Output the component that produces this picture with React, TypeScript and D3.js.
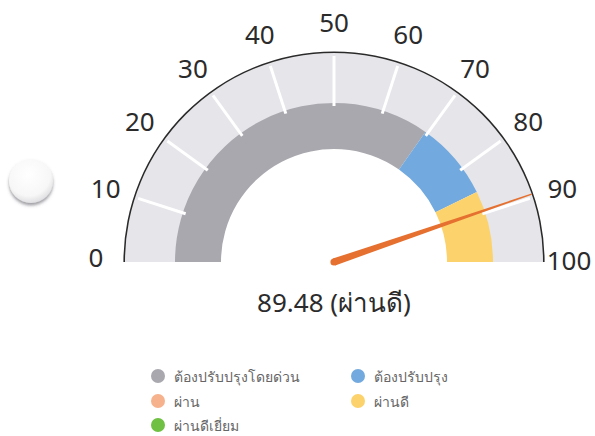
import React from "react";
import * as d3 from "d3";

const tickValues = [0, 10, 20, 30, 40, 50, 60, 70, 80, 90, 100];
const bandNames = ["ต้องปรับปรุงโดยด่วน", "ต้องปรับปรุง", "ผ่านดี"];
const bandStarts = [0, 69.5, 85.5];
const bandEnds = [69.5, 85.5, 100];
const bandColors = ["#a9a8ae", "#72a9de", "#fcd26c"];
const gaugeValue = 89.48;
const valueLabel = "(ผ่านดี)";
const legendNames = ["ต้องปรับปรุงโดยด่วน", "ต้องปรับปรุง", "ผ่าน", "ผ่านดี", "ผ่านดีเยี่ยม"];
const legendColors = ["#a9a8ae", "#72a9de", "#f6b28c", "#fcd26c", "#6fc043"];

const W = 595;
const H = 436;
const cx = 334;
const cy = 262;
const rOuter = 209;
const rBandOuter = 159;
const rBandInner = 113;
const rLabel = 240;
const font = "'Noto Sans', 'Open Sans', sans-serif";

export default function App() {
  const angle = d3.scaleLinear().domain([0, 100]).range([-Math.PI / 2, Math.PI / 2]);
  const bgArc = d3.arc()({
    innerRadius: rBandOuter - 1,
    outerRadius: rOuter,
    startAngle: angle(0),
    endAngle: angle(100),
  } as any) as string;
  const outline = d3.arc()({
    innerRadius: rOuter,
    outerRadius: rOuter + 1.6,
    startAngle: angle(0),
    endAngle: angle(100),
  } as any) as string;
  const pt = (v: number, r: number): [number, number] => {
    const a = angle(v);
    return [cx + r * Math.sin(a), cy - r * Math.cos(a)];
  };
  const a = angle(gaugeValue);
  const ux = Math.sin(a), uy = -Math.cos(a);
  const px = Math.cos(a), py = Math.sin(a);
  const baseW = 3.6, tipW = 0.6, tipR = rOuter;
  const needle = [
    [cx + px * baseW, cy + py * baseW],
    [cx + ux * tipR + px * tipW, cy + uy * tipR + py * tipW],
    [cx + ux * tipR - px * tipW, cy + uy * tipR - py * tipW],
    [cx - px * baseW, cy - py * baseW],
  ]
    .map((p) => p.join(","))
    .join(" ");

  const legendX = [158, 358];
  const legendY = [376, 401, 425];

  return (
    <svg width={W} height={H} style={{ position: "absolute", left: 0, top: 0, background: "#fff" }}>
      <defs>
        <radialGradient id="knob" cx="0.45" cy="0.35" r="0.7">
          <stop offset="0" stopColor="#ffffff" />
          <stop offset="0.7" stopColor="#f7f7f7" />
          <stop offset="1" stopColor="#d8d8dc" />
        </radialGradient>
        <filter id="knobShadow" x="-50%" y="-50%" width="200%" height="200%">
          <feDropShadow dx="0" dy="2.5" stdDeviation="1.6" floodColor="#50505a" floodOpacity="0.55" />
        </filter>
      </defs>
      <circle cx={31} cy={181} r={22} fill="url(#knob)" filter="url(#knobShadow)" />

      <g transform={`translate(${cx},${cy})`}>
        <path d={bgArc} fill="#e5e5ea" />
        {bandStarts.map((s, i) => (
          <path
            key={bandNames[i]}
            d={
              d3.arc()({
                innerRadius: rBandInner,
                outerRadius: rBandOuter,
                startAngle: angle(s),
                endAngle: angle(bandEnds[i]),
              } as any) as string
            }
            fill={bandColors[i]}
          />
        ))}
        <path d={outline} fill="#2a2a2a" />
      </g>

      {tickValues
        .filter((v) => v > 0 && v < 100)
        .map((v) => {
          const [x1, y1] = pt(v, rBandOuter - 3);
          const [x2, y2] = pt(v, rOuter - 3);
          return <line key={"t" + v} x1={x1} y1={y1} x2={x2} y2={y2} stroke="#ffffff" strokeWidth={3} />;
        })}

      {tickValues.map((v) => {
        const [x, y] = pt(v, rLabel);
        let lx = x, ly = y;
        if (v === 0) { lx = x + 2; ly = y - 5; }
        if (v === 100) { lx = x - 5; ly = y - 2; }
        return (
          <text
            key={"l" + v}
            x={lx}
            y={ly}
            textAnchor="middle"
            dominantBaseline="central"
            fontFamily={font}
            fontSize={26}
            fill="#2b2b2b"
          >
            {v}
          </text>
        );
      })}

      <polygon points={needle} fill="#e5702f" />
      <circle cx={cx} cy={cy} r={baseW} fill="#e5702f" />

      <text
        x={cx}
        y={302}
        textAnchor="middle"
        dominantBaseline="central"
        fontFamily={font}
        fontSize={26}
        fill="#2b2b2b"
      >
        {gaugeValue.toFixed(2) + " " + valueLabel}
      </text>

      {legendNames.map((name, i) => {
        const col = i % 2;
        const row = Math.floor(i / 2);
        const x = legendX[col];
        const y = legendY[row];
        return (
          <g key={name}>
            <circle cx={x} cy={y} r={7} fill={legendColors[i]} />
            <text
              x={x + 16}
              y={y}
              dominantBaseline="central"
              fontFamily={font}
              fontSize={14}
              fill="#666"
            >
              {name}
            </text>
          </g>
        );
      })}
    </svg>
  );
}
